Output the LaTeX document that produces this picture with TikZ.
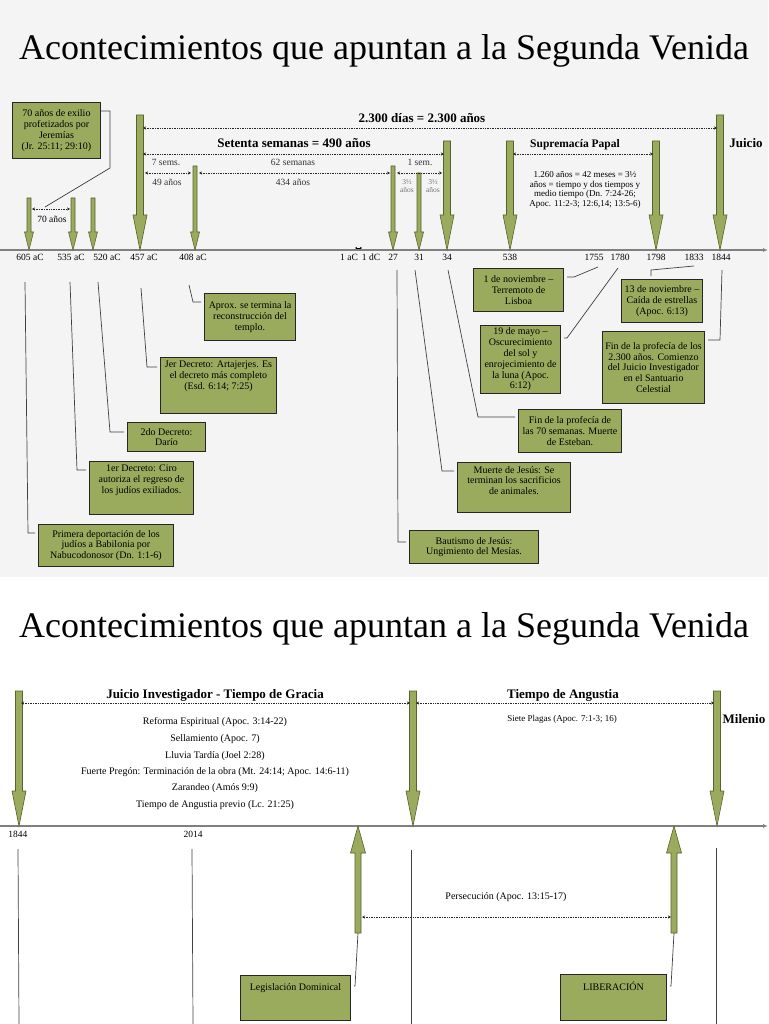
\documentclass[tikz,border=0pt]{standalone}
\usepackage{fontspec}
\setmainfont{Liberation Serif}
\usetikzlibrary{arrows.meta,calc}

\definecolor{olivebox}{RGB}{155,171,94}
\definecolor{olivedark}{RGB}{84,100,42}
\definecolor{slidegray}{RGB}{244,244,244}

\newcommand{\boxfont}{\fontsize{10}{10.8}\selectfont}
\newcommand{\tallarrow}[3]{\filldraw[fatarrow] (#1-3.5,#2) -- (#1+3.5,#2) -- (#1+3.5,#3-35) -- (#1+7,#3-35) -- (#1,#3) -- (#1-7,#3-35) -- (#1-3.5,#3-35) -- cycle;}
\newcommand{\thinarrow}[3]{\filldraw[fatarrow] (#1-2,#2) -- (#1+2,#2) -- (#1+2,#3-18) -- (#1+4.5,#3-18) -- (#1,#3) -- (#1-4.5,#3-18) -- (#1-2,#3-18) -- cycle;}
\newcommand{\tallup}[3]{\filldraw[fatarrow] (#1-3,#3) -- (#1+3,#3) -- (#1+3,#2+27) -- (#1+7.5,#2+27) -- (#1,#2) -- (#1-7.5,#2+27) -- (#1-3,#2+27) -- cycle;}

\begin{document}
\begin{tikzpicture}[x=1pt, y=-1pt, >=Stealth,
  axisline/.style={draw=black!50, line width=1.2pt},
  span/.style={black!85, line width=0.6pt, dash pattern=on 0.8pt off 0.9pt, {Stealth[length=3pt,width=3pt]}-{Stealth[length=3pt,width=3pt]}},
  fatarrow/.style={fill=olivebox, draw=olivedark, line width=0.6pt},
  gbox/.style={draw=black!85, fill=olivebox, line width=1pt, anchor=north west, align=center, inner sep=1pt, font=\boxfont},
  toptext/.style={anchor=north, align=center, font=\boxfont, inner sep=0pt, yshift=-4pt},
  leader/.style={draw=black!75, line width=0.7pt, shorten >=3pt},
  datelbl/.style={font=\fontsize{9.5}{10}\selectfont, anchor=base},
  head/.style={font=\fontsize{13}{15}\selectfont\bfseries, anchor=base},
  note/.style={font=\fontsize{9.5}{10.5}\selectfont, black!80, align=center},
  listtext/.style={font=\fontsize{10}{11}\selectfont},
  title/.style={font=\fontsize{36}{40}\selectfont, anchor=base}]

\def\axisA{250}
\def\axisB{826}

\useasboundingbox (0,0) rectangle (768,1024);
\fill[slidegray] (0,0) rectangle (768,577);
\fill[white] (0,577) rectangle (768,1024);

\node[title] (titleA) at (384,60) {Acontecimientos que apuntan a la Segunda Venida};

\draw[axisline, -{Latex[length=5pt,width=4pt]}] (0,\axisA) -- (768,\axisA);

\foreach \xx/\yr [count=\k] in {30/605 aC, 71/535 aC, 107/520 aC, 144/457 aC, 193/408 aC, 349/1 aC, 371/1 dC, 393/27, 419/31, 447/34, 510/538, 594/1755, 620/1780, 656/1798, 694/1833, 721/1844}
  \node[datelbl] (date\k) at (\xx,260) {\yr};

\draw[{Stealth[length=2pt,width=2pt]}-{Stealth[length=2pt,width=2pt]}, line width=0.5pt] (355,248) -- (362,248);

\tallarrow{140}{115}{\axisA}
\tallarrow{447}{141}{\axisA}
\tallarrow{510}{141}{\axisA}
\tallarrow{656}{141}{\axisA}
\tallarrow{720}{115}{\axisA}
\thinarrow{29}{198}{\axisA}
\thinarrow{73}{198}{\axisA}
\thinarrow{93}{198}{\axisA}
\thinarrow{195}{166}{\axisA}
\thinarrow{393}{166}{\axisA}
\thinarrow{419}{173}{\axisA}

\draw[span] (143,128) -- (717,128);
\draw[span] (143,154) -- (444,154);
\draw[span] (513,154) -- (653,154);
\draw[span] (145,173) -- (191,173);
\draw[span] (199,173) -- (390,173);
\draw[span] (397,173) -- (442,173);
\draw[span] (32,209) -- (70,209);

\node[head] (dias) at (422,123) {2.300 días = 2.300 años};
\node[head] (setenta) at (294,148) {Setenta semanas = 490 años};
\node[head, font=\fontsize{11.5}{13}\selectfont\bfseries] (papal) at (575,148) {Supremacía Papal};
\node[head] (juicio) at (746,148) {Juicio};

\node[note] (sems) at (166,162) {7 sems.};
\node[note] (anos49) at (167,182) {49 años};
\node[note] (semanas62) at (293,162) {62 semanas};
\node[note] (anos434) at (293,182) {434 años};
\node[note] (sem1) at (420,162) {1 sem.};
\node[note, black!55, font=\fontsize{7.5}{8.5}\selectfont] (mitadA) at (407,186) {3½\\años};
\node[note, black!55, font=\fontsize{7.5}{8.5}\selectfont] (mitadB) at (433,186) {3½\\años};
\node[note, black] (anos70) at (52,219) {70 años};
\node[note, black, font=\fontsize{9}{9.6}\selectfont] (tiempos) at (585,190) {1.260 años = 42 meses = 3½\\años = tiempo y dos tiempos y\\medio tiempo (Dn. 7:24-26;\\Apoc. 11:2-3; 12:6,14; 13:5-6)};

\node[gbox, minimum width=88pt, minimum height=56pt] (exilio) at (12,102) {70 años de exilio\\profetizados por\\Jeremías\\(Jr. 25:11; 29:10)};
\draw[leader, shorten >=0pt] ([yshift=-9pt]exilio.north east) -- (110,111) -- (110,168) -- (45,207);

\node[gbox, minimum width=91pt, minimum height=47pt] (templo) at (204,293) {Aprox. se termina la\\reconstrucción del\\templo.};
\draw[leader] (189,285) -- (193,302) -- (templo.west |- 0,302);

\node[gbox, minimum width=116pt, minimum height=56pt, label={[toptext]north:{Jer Decreto: Artajerjes. Es\\el decreto más completo\\(Esd. 6:14; 7:25)}}] (artajerjes) at (160,357) {};
\draw[leader] (141,288) -- (147,367) -- (artajerjes.west |- 0,367);

\node[gbox, minimum width=78pt, minimum height=29pt] (dario) at (127,422) {2do Decreto:\\Darío};
\draw[leader] (98,282) -- (110,432) -- (dario.west |- 0,432);

\node[gbox, minimum width=104pt, minimum height=53pt, label={[toptext]north:{1er Decreto: Ciro\\autoriza el regreso de\\los judíos exiliados.}}] (ciro) at (89,461) {};
\draw[leader] (70,282) -- (77,470) -- (ciro.west |- 0,470);

\node[gbox, minimum width=135pt, minimum height=42pt] (deportacion) at (38,524) {Primera deportación de los\\judíos a Babilonia por\\Nabucodonosor (Dn. 1:1-6)};
\draw[leader] (25,282) -- (28,533) -- (deportacion.west |- 0,533);

\node[gbox, minimum width=90pt, minimum height=43pt] (lisboa) at (473,268) {1 de noviembre –\\Terremoto de\\Lisboa};
\draw[leader] (598,267) -- (574,277) -- (lisboa.east |- 0,277);

\node[gbox, minimum width=80pt, minimum height=68pt] (sol) at (480,325) {19 de mayo –\\Oscurecimiento\\del sol y\\enrojecimiento de\\la luna (Apoc.\\6:12)};
\draw[leader] (618,268) -- (567,338) -- (sol.east |- 0,338);

\node[gbox, minimum width=81pt, minimum height=43pt] (estrellas) at (621,279) {13 de noviembre –\\Caída de estrellas\\(Apoc. 6:13)};
\draw[leader] (694,266) -- (651,270) -- (estrellas.north -| 651,0);

\node[gbox, minimum width=102pt, minimum height=72pt] (santuario) at (602,331) {Fin de la profecía de los\\2.300 años. Comienzo\\del Juicio Investigador\\en el Santuario\\Celestial};
\draw[leader] (722,270) -- (720,340) -- (santuario.east |- 0,340);

\node[gbox, minimum width=103pt, minimum height=43pt] (esteban) at (518,409) {Fin de la profecía de\\las 70 semanas. Muerte\\de Esteban.};
\draw[leader] (448,270) -- (478,417) -- (esteban.west |- 0,417);

\node[gbox, minimum width=113pt, minimum height=50pt, label={[toptext]north:{Muerte de Jesús: Se\\terminan los sacrificios\\de animales.}}] (cruz) at (457,462) {};
\draw[leader] (415,270) -- (442,471) -- (cruz.west |- 0,471);

\node[gbox, minimum width=129pt, minimum height=33pt] (bautismo) at (409,530) {Bautismo de Jesús:\\Ungimiento del Mesías.};
\draw[leader] (397,270) -- (398,542) -- (bautismo.west |- 0,542);

\node[title] (titleB) at (384,637) {Acontecimientos que apuntan a la Segunda Venida};

\draw[axisline, -{Latex[length=5pt,width=4pt]}] (0,\axisB) -- (768,\axisB);

\tallarrow{19}{691}{\axisB}
\tallarrow{413}{691}{\axisB}
\tallarrow{717}{691}{\axisB}
\tallup{358}{\axisB}{933}
\tallup{674}{\axisB}{933}

\node[datelbl] (inicio) at (18,837) {1844};
\node[datelbl] (hoy) at (193,837) {2014};

\draw[leader, shorten >=0pt] (18,849) -- (19,1024);
\draw[leader, shorten >=0pt] (192,849) -- (193,1024);
\draw[leader, shorten >=0pt] (411,850) -- (411,1024);
\draw[leader, shorten >=0pt] (716,848) -- (716,1024);

\draw[span] (21,703) -- (410,703);
\draw[span] (416,703) -- (714,703);
\draw[span] (362,917) -- (671,917);

\node[head] (gracia) at (215,698) {Juicio Investigador - Tiempo de Gracia};
\node[head] (angustia) at (563,698) {Tiempo de Angustia};
\node[head] (milenio) at (744,723) {Milenio};

\node[listtext] (reforma) at (215,722) {Reforma Espiritual (Apoc. 3:14-22)};
\node[listtext] (sello) at (215,739) {Sellamiento (Apoc. 7)};
\node[listtext] (lluvia) at (215,756) {Lluvia Tardía (Joel 2:28)};
\node[listtext] (pregon) at (215,772) {Fuerte Pregón: Terminación de la obra (Mt. 24:14; Apoc. 14:6-11)};
\node[listtext] (zarandeo) at (215,788) {Zarandeo (Amós 9:9)};
\node[listtext] (previo) at (215,805) {Tiempo de Angustia previo (Lc. 21:25)};
\node[listtext, font=\fontsize{9}{10}\selectfont] (plagas) at (562,719) {Siete Plagas (Apoc. 7:1-3; 16)};
\node[listtext] (persecucion) at (506,897) {Persecución (Apoc. 13:15-17)};

\node[gbox, minimum width=110pt, minimum height=45pt, label={[toptext, yshift=-4pt]north:{Legislación Dominical}}] (dominical) at (240,975) {};
\draw[leader] (358,933) -- (355,986) -- (dominical.east |- 0,986);

\node[gbox, minimum width=106pt, minimum height=46pt, label={[toptext, yshift=-4pt]north:{LIBERACIÓN}}] (liberacion) at (560,974) {};
\draw[leader] (674,933) -- (671,986) -- (liberacion.east |- 0,986);

\end{tikzpicture}
\end{document}
